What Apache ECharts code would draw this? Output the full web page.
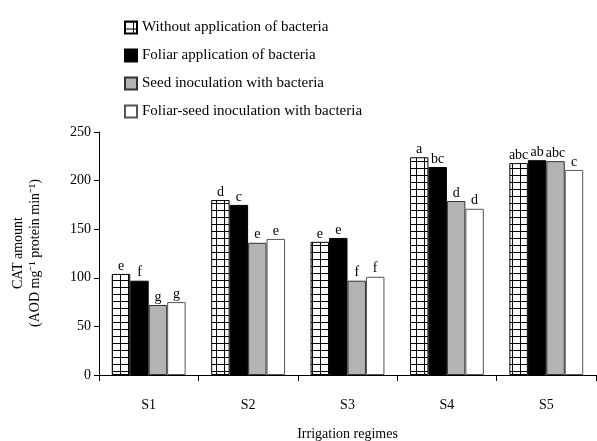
<!DOCTYPE html>
<html>
<head>
<meta charset="utf-8">
<script src="https://cdn.jsdelivr.net/npm/echarts@6/dist/echarts.min.js"></script>
<style>
html,body{margin:0;padding:0;background:#fff;}
#chart{width:597px;height:441px;}
</style>
</head>
<body>
<div id="chart"></div>
<script>
var categories = ['S1', 'S2', 'S3', 'S4', 'S5'];
var seriesNames = [
  'Without application of bacteria',
  'Foliar application of bacteria',
  'Seed inoculation with bacteria',
  'Foliar-seed inoculation with bacteria'
];
var withoutValues = [104, 180, 137, 224, 218];
var foliarValues = [97, 175, 141, 214, 221];
var seedValues = [72, 136, 97, 179, 220];
var foliarSeedValues = [75, 140, 101, 171, 211];
var withoutLetters = ['e', 'd', 'e', 'a', 'abc'];
var foliarLetters = ['f', 'c', 'e', 'bc', 'ab'];
var seedLetters = ['g', 'e', 'f', 'd', 'abc'];
var foliarSeedLetters = ['g', 'e', 'f', 'd', 'c'];
var yTicks = [0, 50, 100, 150, 200, 250];

var cv = document.createElement('canvas');
cv.width = 8; cv.height = 7;
var cx = cv.getContext('2d');
cx.fillStyle = '#fff'; cx.fillRect(0, 0, 8, 7);
cx.fillStyle = '#000';
cx.fillRect(0, 0, 8, 1);
cx.fillRect(0, 0, 1, 7);

var font = 'Liberation Serif';
function mk(name, vals, letters, style) {
  return {
    name: name,
    type: 'bar',
    barGap: '0%',
    barCategoryGap: '25.7%',
    data: vals.map(function (v, i) {
      return { value: v, label: { formatter: letters[i] } };
    }),
    itemStyle: style,
    label: {
      show: true, position: 'top', distance: 1,
      color: '#000', fontFamily: font, fontSize: 14
    }
  };
}

var chart = echarts.init(document.getElementById('chart'), null, { renderer: 'canvas' });
chart.setOption({
  animation: false,
  backgroundColor: '#fff',
  textStyle: { fontFamily: font, color: '#000' },
  legend: {
    orient: 'vertical', left: 119, top: 15,
    itemWidth: 12, itemHeight: 12, itemGap: 13,
    textStyle: { fontFamily: font, fontSize: 15, color: '#000' },
    data: seriesNames.map(function (n) { return { name: n, icon: 'rect' }; })
  },
  grid: { left: 99, right: 1, top: 132, bottom: 66, containLabel: false, outerBoundsMode: 'none' },
  xAxis: {
    type: 'category', data: categories,
    axisLine: { lineStyle: { color: '#000', width: 1 } },
    axisTick: { show: true, length: 6, lineStyle: { color: '#000' } },
    axisLabel: { color: '#000', fontFamily: font, fontSize: 14, margin: 23 },
    name: 'Irrigation regimes', nameLocation: 'middle', nameGap: 52,
    nameTextStyle: { color: '#000', fontFamily: font, fontSize: 14 }
  },
  yAxis: {
    type: 'value', min: 0, max: 250, interval: 50,
    splitLine: { show: false },
    axisLine: { show: true, lineStyle: { color: '#000', width: 1 } },
    axisTick: { show: true, length: 5, lineStyle: { color: '#000' } },
    axisLabel: { color: '#000', fontFamily: font, fontSize: 14, margin: 8,
      formatter: function (v) { return yTicks.indexOf(v) >= 0 ? String(v) : ''; } }
  },
  graphic: [
    { type: 'text', position: [18, 253], rotation: Math.PI / 2,
      style: { text: 'CAT amount', fontFamily: font, fontSize: 14, fill: '#000', textAlign: 'center', textVerticalAlign: 'middle' } },
    { type: 'text', position: [35, 253], rotation: Math.PI / 2,
      style: { text: '(AOD mg\u207B\u00B9 protein min\u207B\u00B9)', fontFamily: font, fontSize: 14, fill: '#000', textAlign: 'center', textVerticalAlign: 'middle' } }
  ],
  series: [
    mk(seriesNames[0], withoutValues, withoutLetters, { color: { image: cv, repeat: 'repeat' }, borderColor: '#000', borderWidth: 1 }),
    mk(seriesNames[1], foliarValues, foliarLetters, { color: '#000', borderColor: '#000', borderWidth: 1 }),
    mk(seriesNames[2], seedValues, seedLetters, { color: '#b3b3b3', borderColor: '#333', borderWidth: 1 }),
    mk(seriesNames[3], foliarSeedValues, foliarSeedLetters, { color: '#fff', borderColor: '#555', borderWidth: 1 })
  ]
});
</script>
</body>
</html>
